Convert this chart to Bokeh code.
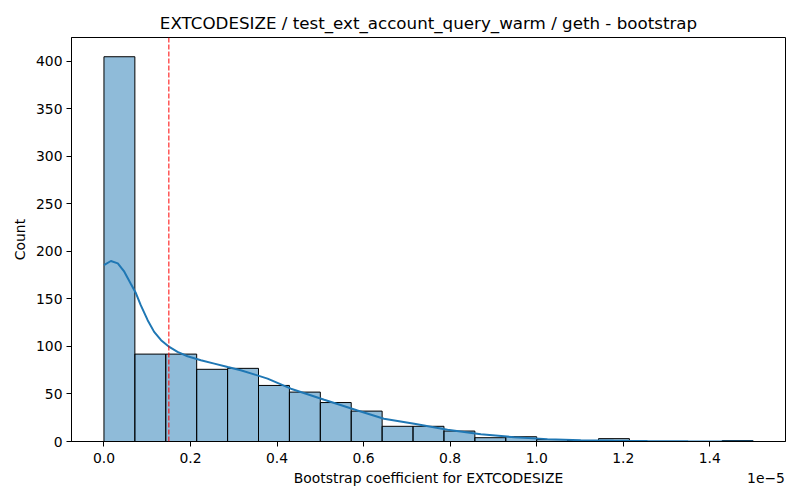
from bokeh.plotting import figure
from bokeh.models import FixedTicker, Range1d, Span, LinearAxis
from bokeh.embed import file_html
from bokeh.resources import INLINE
import numpy as np

# ---- data (x in units of 1e-5) ----
title = "EXTCODESIZE / test_ext_account_query_warm / geth - bootstrap"
x_label = "Bootstrap coefficient for EXTCODESIZE"
y_label = "Count"
x_offset_label = "1e\u22125"
bin_min = 0.0
bin_max = 1.5
counts = [405, 92, 92, 76, 77, 59, 52, 41, 32, 16, 16, 11, 4, 5, 2, 1, 3, 0, 0, 0, 1]
kde_x = [0.0, 0.016, 0.032, 0.047, 0.062, 0.074, 0.085, 0.101, 0.116, 0.132, 0.151,
         0.170, 0.193, 0.224, 0.255, 0.286, 0.316, 0.347, 0.378, 0.432, 0.509, 0.586,
         0.647, 0.717, 0.794, 0.871, 0.948, 1.025, 1.102, 1.178, 1.256, 1.35, 1.5]
kde_y = [185.7, 190, 187.5, 178.7, 166, 156, 143.5, 127.7, 115.4, 106.6, 99.5,
         94.3, 89.7, 85.5, 82, 78.4, 75, 70.7, 66.2, 55.6, 44, 32.7,
         24, 18.7, 12.3, 7.7, 4.5, 2.5, 1.4, 0.7, 0.4, 0.2, 0.1]
threshold = 0.15
x_ticks = [0.0, 0.2, 0.4, 0.6, 0.8, 1.0, 1.2, 1.4]
y_ticks = [0, 50, 100, 150, 200, 250, 300, 350, 400]

FONT = "DejaVu Sans"
BLUE = "#1f77b4"

edges = np.linspace(bin_min, bin_max, len(counts) + 1)
span_x = bin_max - bin_min
x0 = bin_min - 0.05 * span_x
x1 = bin_max + 0.05 * span_x
ymax = max(counts) * 1.05

FRAME_W = 714
p = figure(width=800, height=500, output_backend="svg", toolbar_location=None,
           x_range=Range1d(x0, x1), y_range=Range1d(0, ymax),
           min_border_left=71, min_border_right=15, min_border_top=37, min_border_bottom=59,
           title=title)

p.title.text_font = FONT
p.title.text_font_size = "16.7px"
p.title.text_font_style = "normal"
p.title.align = "center"
p.title.text_color = "black"
p.title.standoff = 10

p.quad(left=edges[:-1], right=edges[1:], bottom=0, top=counts,
       fill_color=BLUE, fill_alpha=0.5, line_color="black", line_width=1)
p.line(kde_x, kde_y, line_color=BLUE, line_width=2)
p.add_layout(Span(location=threshold, dimension="height", line_color="red",
                  line_dash="5 2", line_width=1))

p.xgrid.visible = False
p.ygrid.visible = False
p.outline_line_color = "black"
p.outline_line_width = 1
p.outline_line_alpha = 1

def style(ax):
    ax.major_label_text_font = FONT
    ax.major_label_text_font_size = "13.9px"
    ax.major_label_text_color = "black"
    ax.axis_label_text_font = FONT
    ax.axis_label_text_font_size = "13.9px"
    ax.axis_label_text_font_style = "normal"
    ax.axis_label_text_color = "black"
    ax.major_tick_out = 5
    ax.major_tick_in = 0
    ax.minor_tick_out = 0
    ax.minor_tick_in = 0
    ax.axis_line_color = "black"
    ax.major_tick_line_color = "black"
    ax.major_label_standoff = 4

style(p.xaxis[0])
style(p.yaxis[0])
p.xaxis[0].ticker = FixedTicker(ticks=x_ticks)
p.xaxis[0].major_label_overrides = {t: f"{t:.1f}" for t in x_ticks}
p.xaxis[0].major_label_standoff = 6
p.yaxis[0].ticker = FixedTicker(ticks=y_ticks)
p.yaxis[0].axis_label = y_label
p.yaxis[0].axis_label_standoff = 5

# second, line-less axis below carrying the axis title and the 1e-5 offset text
px_per_unit = FRAME_W / (x1 - x0)
x_center = (x0 + x1) / 2
x_off = x1 - 19.5 / px_per_unit
lab_axis = LinearAxis(ticker=FixedTicker(ticks=[x_center, x_off]),
                      major_label_overrides={x_center: x_label, x_off: x_offset_label})
style(lab_axis)
lab_axis.axis_line_color = None
lab_axis.major_tick_line_color = None
lab_axis.major_tick_out = 0
lab_axis.major_label_standoff = 4
p.add_layout(lab_axis, "below")

open("out.html", "w").write(file_html(p, INLINE))
